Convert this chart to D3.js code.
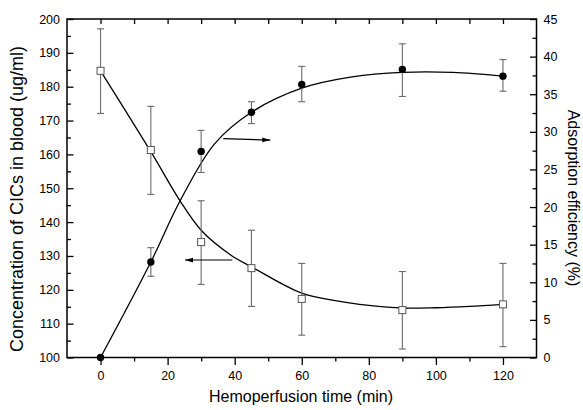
<!DOCTYPE html>
<html>
<head>
<meta charset="utf-8">
<script src="https://cdn.jsdelivr.net/npm/d3@7"></script>
<style>
  body { margin: 0; background: #fff; }
  svg { display: block; font-family: "Liberation Sans", Arial, sans-serif; }
</style>
</head>
<body>
<div id="chart"></div>
<script>
// measured points (min)
const timePoints = [0, 15, 30, 45, 60, 90, 120];
// CICs concentration, left axis (ug/ml)
const concMean = [184.7, 161.3, 134.1, 126.4, 117.3, 114.0, 115.7];
const concLow = [172.1, 148.2, 121.6, 115.1, 106.6, 102.5, 103.2];
const concHigh = [197.1, 174.2, 146.3, 137.6, 127.8, 125.4, 127.8];
// adsorption efficiency, right axis (%)
const adsMean = [0, 12.7, 27.4, 32.6, 36.3, 38.3, 37.4];
const adsLow = [0, 10.8, 24.6, 31.1, 34.0, 34.7, 35.4];
const adsHigh = [0, 14.6, 30.2, 34.0, 38.7, 41.7, 39.6];

// fitted curves
const concFitTime = [0, 15, 23.7, 30, 38.8, 45, 60, 70, 80, 90, 100, 110, 120];
const concFitValue = [184.7, 160.8, 146.3, 137.6, 130.3, 126.8, 119.0, 116.8, 115.4, 114.6, 114.7, 115.1, 115.7];
const adsFitTime = [0, 15, 23.7, 34, 45, 60, 75, 90, 105, 120];
const adsFitValue = [0, 12.7, 20.8, 28.4, 32.6, 35.8, 37.3, 37.9, 37.9, 37.4];

// arrows pointing at their axis: [start, end]
const arrowAdsTime = [36.6, 50.6];
const arrowAdsValue = [29.1, 28.9];
const arrowConcTime = [39.3, 25.2];
const arrowConcValue = [128.8, 128.8];

// axis ticks
const xMajor = [0, 20, 40, 60, 80, 100, 120];
const xMinor = [10, 30, 50, 70, 90, 110];
const yLeftMajor = d3.range(100, 201, 10);
const yLeftMinor = d3.range(105, 200, 10);
const yRightMajor = d3.range(0, 46, 5);
const yRightMinor = d3.range(2.5, 45, 5);

const width = 583, height = 410;
const plot = { left: 67, right: 536.5, top: 19, bottom: 357.5 };

const svg = d3.select("#chart").append("svg")
  .attr("width", width)
  .attr("height", height);

const x = d3.scaleLinear().domain([-10, 130]).range([plot.left, plot.right]);
const yLeft = d3.scaleLinear().domain([100, 200]).range([plot.bottom, plot.top]);
const yRight = d3.scaleLinear().domain([0, 45]).range([plot.bottom, plot.top]);

function styleAxis(g) {
  g.select(".domain").remove();
  g.selectAll(".tick line").attr("stroke", "#000").attr("stroke-width", 1.3);
  g.selectAll(".tick text").attr("fill", "#000").style("font-size", "12.5px")
    .style("font-family", '"Liberation Sans", Arial, sans-serif');
}

// bottom: ticks point out
svg.append("g").attr("transform", `translate(0,${plot.bottom})`)
  .call(d3.axisBottom(x).tickValues(xMajor).tickSize(7.5).tickPadding(6.5))
  .call(styleAxis);
svg.append("g").attr("transform", `translate(0,${plot.bottom})`)
  .call(d3.axisBottom(x).tickValues(xMinor).tickSize(4).tickFormat(""))
  .call(styleAxis);
// top: ticks point in
svg.append("g").attr("transform", `translate(0,${plot.top})`)
  .call(d3.axisTop(x).tickValues(xMajor.concat(xMinor)).tickSize(-5).tickFormat(""))
  .call(styleAxis);
// left
svg.append("g").attr("transform", `translate(${plot.left},0)`)
  .call(d3.axisLeft(yLeft).tickValues(yLeftMajor).tickSize(-6.5).tickPadding(7))
  .call(styleAxis);
svg.append("g").attr("transform", `translate(${plot.left},0)`)
  .call(d3.axisLeft(yLeft).tickValues(yLeftMinor).tickSize(-4).tickFormat(""))
  .call(styleAxis);
// right
svg.append("g").attr("transform", `translate(${plot.right},0)`)
  .call(d3.axisRight(yRight).tickValues(yRightMajor).tickSize(-6.5).tickPadding(7))
  .call(styleAxis);
svg.append("g").attr("transform", `translate(${plot.right},0)`)
  .call(d3.axisRight(yRight).tickValues(yRightMinor).tickSize(-4).tickFormat(""))
  .call(styleAxis);

// frame
svg.append("rect")
  .attr("x", plot.left).attr("y", plot.top)
  .attr("width", plot.right - plot.left).attr("height", plot.bottom - plot.top)
  .attr("fill", "none").attr("stroke", "#000").attr("stroke-width", 1.5);

// fitted curves
const concFit = concFitTime.map((t, i) => [t, concFitValue[i]]);
const adsFit = adsFitTime.map((t, i) => [t, adsFitValue[i]]);

svg.append("path").datum(concFit)
  .attr("fill", "none").attr("stroke", "#000").attr("stroke-width", 1.3)
  .attr("d", d3.line().x(d => x(d[0])).y(d => yLeft(d[1])).curve(d3.curveCatmullRom.alpha(0.5)));
svg.append("path").datum(adsFit)
  .attr("fill", "none").attr("stroke", "#000").attr("stroke-width", 1.3)
  .attr("d", d3.line().x(d => x(d[0])).y(d => yRight(d[1])).curve(d3.curveCatmullRom.alpha(0.5)));

// error bars
function errorBars(lows, highs, yScale) {
  const g = svg.append("g").attr("stroke", "#6a6a6a").attr("stroke-width", 1.1);
  timePoints.forEach((t, i) => {
    if (highs[i] === lows[i]) return;
    const cx = x(t);
    g.append("line").attr("x1", cx).attr("x2", cx)
      .attr("y1", yScale(lows[i])).attr("y2", yScale(highs[i]));
    [lows[i], highs[i]].forEach(v => {
      g.append("line").attr("x1", cx - 3.5).attr("x2", cx + 3.5)
        .attr("y1", yScale(v)).attr("y2", yScale(v));
    });
  });
}
errorBars(concLow, concHigh, yLeft);
errorBars(adsLow, adsHigh, yRight);

// markers
svg.append("g").selectAll("rect")
  .data(timePoints)
  .enter()
  .append("rect")
  .attr("x", (d, i) => x(d) - 3.5)
  .attr("y", (d, i) => yLeft(concMean[i]) - 3.5)
  .attr("width", 7).attr("height", 7)
  .attr("fill", "#fff").attr("stroke", "#555").attr("stroke-width", 1);

svg.append("g").selectAll("circle")
  .data(timePoints)
  .enter()
  .append("circle")
  .attr("cx", d => x(d))
  .attr("cy", (d, i) => yRight(adsMean[i]))
  .attr("r", 3.7)
  .attr("fill", "#000");

// arrows
svg.append("defs").append("marker")
  .attr("id", "head")
  .attr("markerUnits", "userSpaceOnUse")
  .attr("markerWidth", 9).attr("markerHeight", 6)
  .attr("refX", 8).attr("refY", 3)
  .attr("orient", "auto")
  .append("path").attr("d", "M0,0.6 L8,3 L0,5.4 Z").attr("fill", "#000");

svg.append("line")
  .attr("x1", x(arrowAdsTime[0])).attr("y1", yRight(arrowAdsValue[0]))
  .attr("x2", x(arrowAdsTime[1])).attr("y2", yRight(arrowAdsValue[1]))
  .attr("stroke", "#000").attr("stroke-width", 1.1)
  .attr("marker-end", "url(#head)");
svg.append("line")
  .attr("x1", x(arrowConcTime[0])).attr("y1", yLeft(arrowConcValue[0]))
  .attr("x2", x(arrowConcTime[1])).attr("y2", yLeft(arrowConcValue[1]))
  .attr("stroke", "#000").attr("stroke-width", 1.1)
  .attr("marker-end", "url(#head)");

// axis titles
svg.append("text")
  .attr("transform", "translate(23,199) rotate(-90)")
  .attr("text-anchor", "middle")
  .style("font-size", "18px")
  .text("Concentration of CICs in blood (ug/ml)");

svg.append("text")
  .attr("transform", "translate(568,198) rotate(90)")
  .attr("text-anchor", "middle")
  .style("font-size", "16px")
  .text("Adsorption efficiency (%)");

svg.append("text")
  .attr("x", 301).attr("y", 401.5)
  .attr("text-anchor", "middle")
  .style("font-size", "16px")
  .text("Hemoperfusion time (min)");
</script>
</body>
</html>
